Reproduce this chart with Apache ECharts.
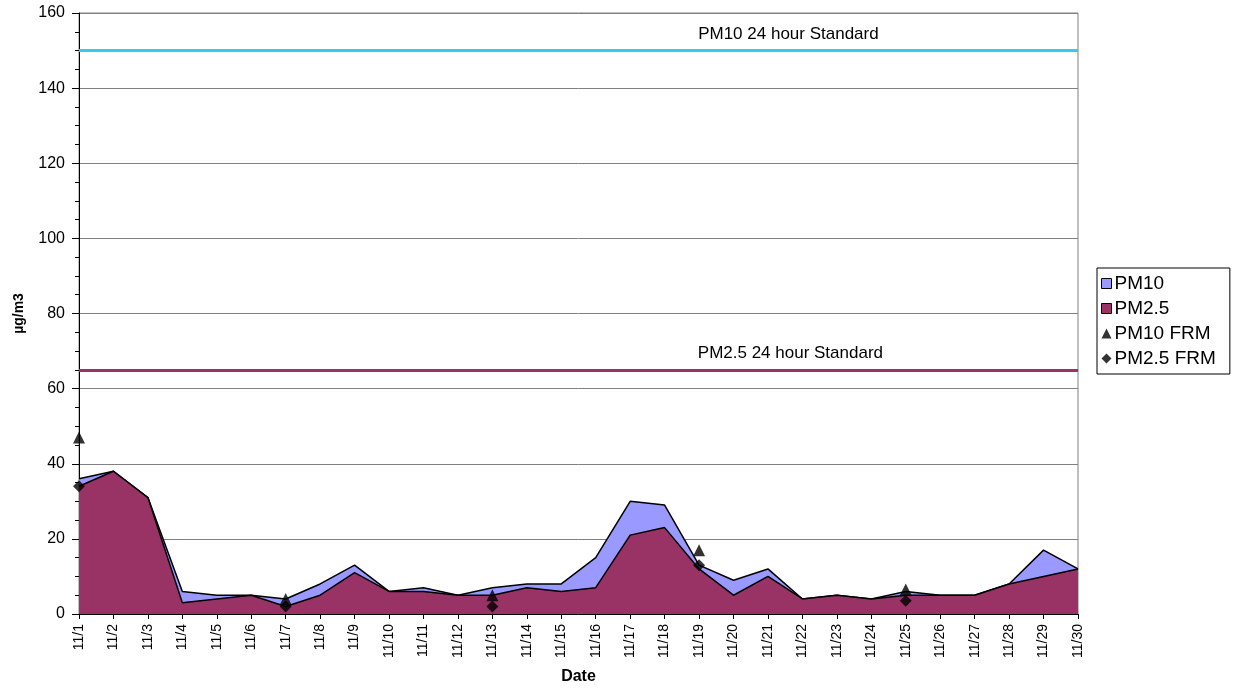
<!DOCTYPE html>
<html>
<head>
<meta charset="utf-8">
<script src="https://cdn.jsdelivr.net/npm/echarts@6/dist/echarts.min.js"></script>
<style>
html, body { margin: 0; padding: 0; background: #fff; }
#chart { width: 1233px; height: 690px; }
</style>
</head>
<body>
<div id="chart"></div>
<script>
var dates = ['11/1','11/2','11/3','11/4','11/5','11/6','11/7','11/8','11/9','11/10',
	'11/11','11/12','11/13','11/14','11/15','11/16','11/17','11/18','11/19','11/20',
	'11/21','11/22','11/23','11/24','11/25','11/26','11/27','11/28','11/29','11/30'];

var pm10 = [36, 38, 31, 6, 5, 5, 4, 8, 13, 6,
	7, 5, 7, 8, 8, 15, 30, 29, 13, 9,
	12, 4, 5, 4, 6, 5, 5, 8, 17, 12];

var pm25 = [34, 38, 31, 3, 4, 5, 2, 5, 11, 6,
	6, 5, 5, 7, 6, 7, 21, 23, 12, 5,
	10, 4, 5, 4, 5, 5, 5, 8, 10, 12];

// FRM samples every sixth day
var pm10Frm = [47, null, null, null, null, null, 4, null, null, null,
	null, null, 5, null, null, null, null, null, 17, null,
	null, null, null, null, 6.5, null, null, null, null, null];

var pm25Frm = [34, null, null, null, null, null, 2, null, null, null,
	null, null, 2, null, null, null, null, null, 13, null,
	null, null, null, null, 3.5, null, null, null, null, null];

var pm10Std = 150;
var pm25Std = 65;

var font = 'Liberation Sans, Arial, sans-serif';

var option = {
	animation : false,
	backgroundColor : '#fff',
	textStyle : { fontFamily : font },
	grid : {
		left : 79,
		right : 155,
		top : 13,
		bottom : 76,
		show : true,
		borderColor : '#808080',
		borderWidth : 1
	},
	legend : {
		orient : 'vertical',
		left : 1097,
		top : 268,
		padding : [6, 14, 6, 4],
		itemGap : 6,
		itemWidth : 10,
		itemHeight : 10,
		borderColor : '#000',
		borderWidth : 1,
		textStyle : { fontSize : 19, color : '#000', fontFamily : font, padding : [0, 0, 0, -2] },
		data : [
			{ name : 'PM10', icon : 'rect', itemStyle : { color : '#9999FF', borderColor : '#000', borderWidth : 1 } },
			{ name : 'PM2.5', icon : 'rect', itemStyle : { color : '#993366', borderColor : '#000', borderWidth : 1 } },
			{ name : 'PM10 FRM', icon : 'triangle', itemStyle : { color : '#000' } },
			{ name : 'PM2.5 FRM', icon : 'diamond', itemStyle : { color : '#000' } }
		]
	},
	xAxis : {
		type : 'category',
		data : dates,
		boundaryGap : false,
		name : 'Date',
		nameLocation : 'middle',
		nameGap : 55,
		nameTextStyle : { fontWeight : 'bold', fontSize : 16, color : '#000' },
		axisLine : { lineStyle : { color : '#000', width : 1 } },
		axisTick : { show : true, length : 5, lineStyle : { color : '#000' } },
		axisLabel : { rotate : 90, fontSize : 14, color : '#000', interval : 0, margin : 10 },
		splitLine : { show : false }
	},
	yAxis : {
		type : 'value',
		min : 0,
		max : 160,
		interval : 20,
		name : 'µg/m3',
		nameLocation : 'middle',
		nameGap : 53,
		nameTextStyle : { fontWeight : 'bold', fontSize : 14, color : '#000' },
		axisLine : { show : true, lineStyle : { color : '#000', width : 1 } },
		axisTick : { show : true, length : 7, lineStyle : { color : '#000' } },
		minorTick : { show : true, splitNumber : 4, length : 4, lineStyle : { color : '#000' } },
		axisLabel : { fontSize : 16, color : '#000', margin : 14 },
		splitLine : { show : true, lineStyle : { color : '#808080', width : 1 } }
	},
	series : [{
		name : 'PM10',
		type : 'line',
		data : pm10,
		symbol : 'none',
		z : 2,
		lineStyle : { color : '#000', width : 1.5 },
		itemStyle : { color : '#9999FF' },
		areaStyle : { color : '#9999FF', opacity : 1 },
		markLine : {
			silent : true,
			symbol : 'none',
			label : { show : false },
			lineStyle : { color : '#33CCEE', width : 3, type : 'solid' },
			data : [{ yAxis : pm10Std }]
		},
		markPoint : {
			symbol : 'circle',
			symbolSize : 0,
			label : {
				show : true,
				position : 'top',
				distance : 8,
				offset : [-14, 0],
				color : '#000',
				fontSize : 17,
				formatter : 'PM10 24 hour Standard'
			},
			data : [{ coord : ['11/22', pm10Std] }]
		}
	}, {
		name : 'PM2.5',
		type : 'line',
		data : pm25,
		symbol : 'none',
		z : 3,
		lineStyle : { color : '#000', width : 1.5 },
		itemStyle : { color : '#993366' },
		areaStyle : { color : '#993366', opacity : 1 },
		markLine : {
			silent : true,
			symbol : 'none',
			label : { show : false },
			lineStyle : { color : '#993366', width : 3, type : 'solid' },
			data : [{ yAxis : pm25Std }]
		},
		markPoint : {
			symbol : 'circle',
			symbolSize : 0,
			label : {
				show : true,
				position : 'top',
				distance : 8,
				offset : [-12, 0],
				color : '#000',
				fontSize : 17,
				formatter : 'PM2.5 24 hour Standard'
			},
			data : [{ coord : ['11/22', pm25Std] }]
		}
	}, {
		name : 'PM10 FRM',
		type : 'scatter',
		data : pm10Frm,
		symbol : 'triangle',
		symbolSize : 12,
		z : 5,
		itemStyle : { color : '#000' }
	}, {
		name : 'PM2.5 FRM',
		type : 'scatter',
		data : pm25Frm,
		symbol : 'diamond',
		symbolSize : 12,
		z : 5,
		itemStyle : { color : '#000' }
	}]
};

var chart = echarts.init(document.getElementById('chart'));
chart.setOption(option);
</script>
</body>
</html>
